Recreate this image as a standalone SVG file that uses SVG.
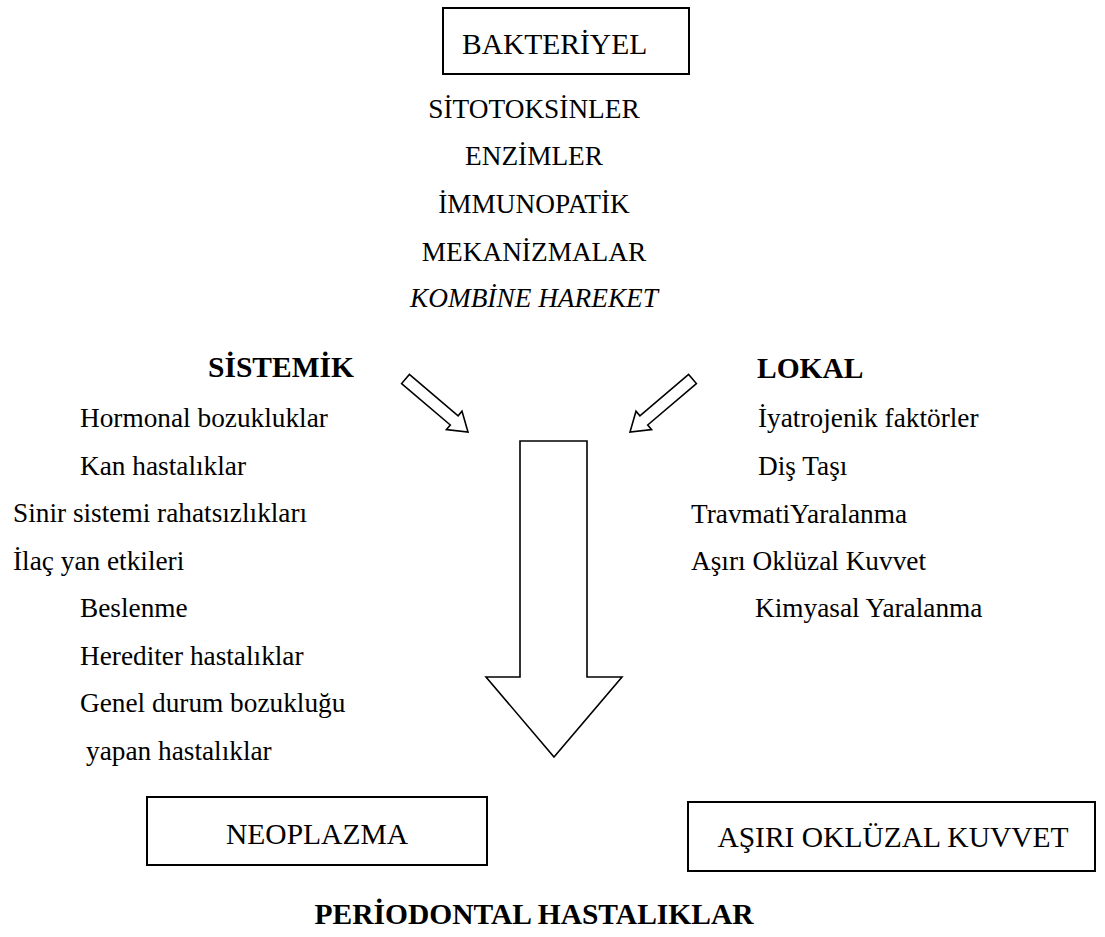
<svg xmlns="http://www.w3.org/2000/svg" width="1105" height="937" viewBox="0 0 1105 937">
<style>
text{font-family:"Liberation Serif","Times New Roman",serif;font-size:27.3px;fill:#000}
.c{text-anchor:middle}
.h{font-size:29.5px}
.b{font-weight:bold}
.i{font-style:italic}
.box{fill:#fff;stroke:#000;stroke-width:2}
.arr{fill:#fff;stroke:#000;stroke-width:1.6;stroke-linejoin:miter}
</style>
<rect width="1105" height="937" fill="#fff"/>
<g id="bakteriyel">
<rect class="box" x="443" y="8" width="246" height="66"/>
<text class="h" x="462" y="54">BAKTERİYEL</text>
</g>
<g id="bakteriyel-list">
<text class="c" x="534" y="118">SİTOTOKSİNLER</text>
<text class="c" x="534" y="165">ENZİMLER</text>
<text class="c" x="534" y="213">İMMUNOPATİK</text>
<text class="c" x="534" y="261">MEKANİZMALAR</text>
<text class="c i" x="534" y="307">KOMBİNE HAREKET</text>
</g>
<g id="sistemik">
<text class="h b" x="208" y="377">SİSTEMİK</text>
<text x="80" y="427">Hormonal bozukluklar</text>
<text x="80" y="475">Kan hastalıklar</text>
<text x="13" y="522">Sinir sistemi rahatsızlıkları</text>
<text x="13" y="570">İlaç yan etkileri</text>
<text x="80" y="617">Beslenme</text>
<text x="80" y="665">Herediter hastalıklar</text>
<text x="80" y="712">Genel durum bozukluğu</text>
<text x="86" y="760">yapan hastalıklar</text>
</g>
<g id="lokal">
<text class="h b" x="757" y="378">LOKAL</text>
<text x="758" y="427">İyatrojenik faktörler</text>
<text x="758" y="475">Diş Taşı</text>
<text x="691" y="523">TravmatiYaralanma</text>
<text x="691" y="570">Aşırı Oklüzal Kuvvet</text>
<text x="755" y="617">Kimyasal Yaralanma</text>
</g>
<g id="connectors">
<path class="arr" d="M401.6,383.6 L450.3,425 L446.4,429.6 L468,432 L462,411.2 L458.1,415.8 L409.4,374.4 Z"/>
<path class="arr" d="M696.4,383.6 L647.7,425 L651.6,429.6 L630,432 L636,411.2 L639.9,415.8 L688.6,374.4 Z"/>
<path class="arr" d="M520,441 L587,441 L587,677 L622,677 L554,757 L486,677 L520,677 Z"/>
</g>
<g id="neoplazma">
<rect class="box" x="147" y="797" width="340" height="68"/>
<text class="h c" x="317" y="844">NEOPLAZMA</text>
</g>
<g id="asiri">
<rect class="box" x="688" y="802" width="407" height="69"/>
<text class="h c" x="893" y="847">AŞIRI OKLÜZAL KUVVET</text>
</g>
<g id="periodontal">
<text class="h c b" x="534" y="924">PERİODONTAL HASTALIKLAR</text>
</g>
</svg>
